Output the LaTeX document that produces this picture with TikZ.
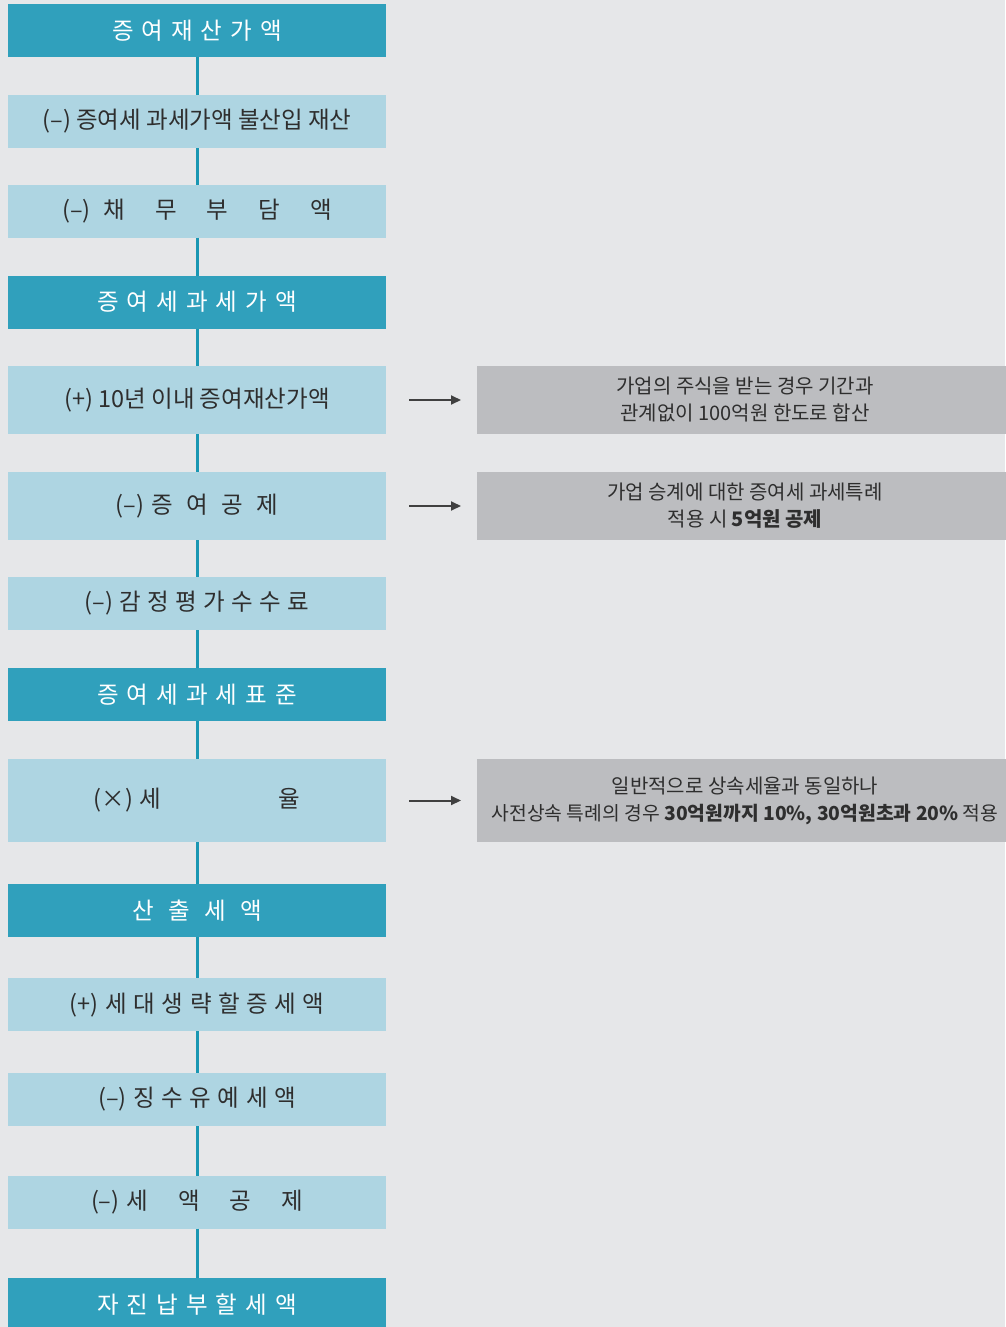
\documentclass[tikz,border=0pt]{standalone}
\usepackage{fontspec}
\setmainfont{Noto Sans CJK KR}
\usetikzlibrary{arrows.meta,positioning}

\definecolor{bggrey}{HTML}{E6E7E9}
\definecolor{headteal}{HTML}{30A0BC}
\definecolor{itemblue}{HTML}{AED5E2}
\definecolor{notegrey}{HTML}{BCBDC0}
\definecolor{linkteal}{HTML}{1A97B3}
\definecolor{txtgrey}{HTML}{2E2E2E}

% letter-spaced hangul
\newcommand{\lsp}[2]{\foreach \ch [count=\k] in {#2}{\ifnum\k>1\hspace{#1}\fi\ch}}

\begin{document}
\begin{tikzpicture}[x=1pt, y=-1pt,
    every node/.style={inner sep=0pt, outer sep=0pt},
    headbox/.style={fill=headteal, text=white, minimum width=378pt, minimum height=53pt,
        font=\fontsize{23.5}{28}\selectfont},
    itembox/.style={fill=itemblue, text=txtgrey, minimum width=378pt, minimum height=53pt,
        font=\fontsize{23.5}{28}\selectfont},
    notebox/.style={fill=notegrey, text=txtgrey, minimum width=536pt, align=center,
        font=\fontsize{20}{27}\selectfont},
    link/.style={draw=linkteal, line width=3pt},
    pointer/.style={draw=black!75, line width=2pt, -{Triangle[length=10pt,width=9pt]},
        shorten <=23pt, shorten >=16pt}
    ]
\fill[bggrey] (0,0) rectangle (1005,1327);
\useasboundingbox (0,0) rectangle (1005,1327);

\node[headbox] (s1) at (197,30.5)  {\lsp{8pt}{증,여,재,산,가,액}};
\node[itembox] (s2) at (197,121.5) {(–) 증여세 과세가액 불산입 재산};
\node[itembox] (s3) at (197,211)   {(–)\hspace{13pt}\lsp{30pt}{채,무,부,담,액}};
\node[headbox] (s4) at (197,302)   {\lsp{8pt}{증,여,세,과,세,가,액}};
\node[itembox, minimum height=68pt] (s5) at (197,400) {(+) 10년 이내 증여재산가액};
\node[itembox, minimum height=68pt] (s6) at (197,506) {(–)\hspace{7pt}\lsp{13.5pt}{증,여,공,제}};
\node[itembox] (s7) at (197,603.5) {(–)\hspace{6pt}\lsp{6.5pt}{감,정,평,가,수,수,료}};
\node[headbox] (s8) at (197,694.5) {\lsp{8pt}{증,여,세,과,세,표,준}};
\node[itembox, minimum height=83pt] (s9) at (197,800.5) {(×)\hspace{6pt}세\hspace{118pt}율};
\node[headbox] (s10) at (197,910.5) {\lsp{14.5pt}{산,출,세,액}};
\node[itembox] (s11) at (197,1004.5) {(+)\hspace{7pt}\lsp{6.5pt}{세,대,생,략,할,증,세,액}};
\node[itembox] (s12) at (197,1099.5) {(–)\hspace{7pt}\lsp{6.5pt}{징,수,유,예,세,액}};
\node[itembox] (s13) at (197,1202)   {(–)\hspace{7pt}\lsp{30pt}{세,액,공,제}};
\node[headbox] (s14) at (197,1304.5) {\lsp{8pt}{자,진,납,부,할,세,액}};

\node[notebox, minimum height=68pt] (n1) at (745,400)
    {가업의 주식을 받는 경우 기간과\\관계없이 100억원 한도로 합산};
\node[notebox, minimum height=68pt] (n2) at (745,506)
    {가업 승계에 대한 증여세 과세특례\\적용 시 \textbf{5억원 공제}};
\node[notebox, minimum height=83pt] (n3) at (745,800.5)
    {일반적으로 상속세율과 동일하나\\{\fontsize{19.3}{27}\selectfont 사전상속 특례의 경우 \textbf{30억원까지 10\%, 30억원초과 20\%} 적용}};

\foreach \i [count=\j from 2] in {1,...,13}
    \draw[link] (s\i) -- (s\j);

\draw[pointer] (s5) -- (n1);
\draw[pointer] (s6) -- (n2);
\draw[pointer] (s9) -- (n3);
\end{tikzpicture}
\end{document}
